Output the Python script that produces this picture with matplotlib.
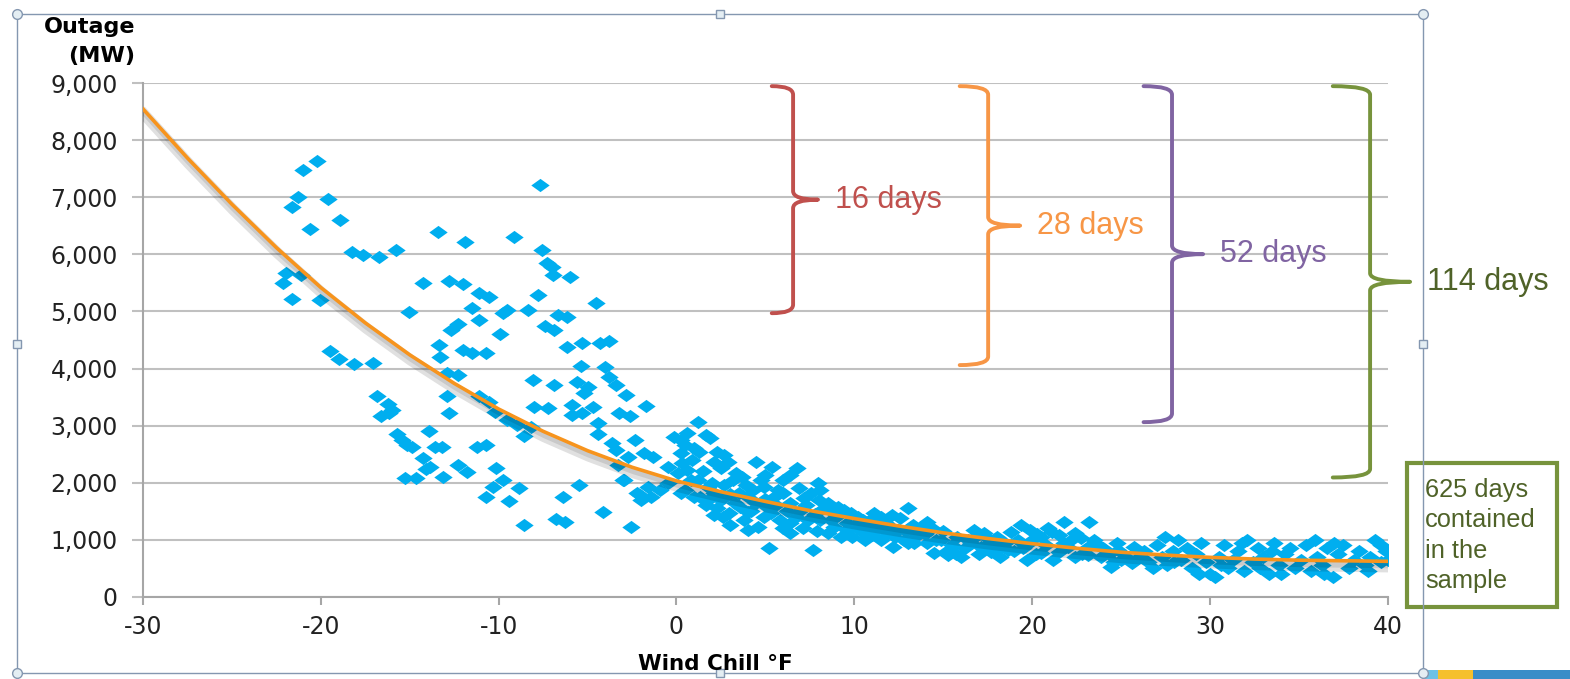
import matplotlib
matplotlib.use("Agg")
from matplotlib import pyplot as plt
from matplotlib.path import Path
from matplotlib.patches import PathPatch, Rectangle
from matplotlib.lines import Line2D
import matplotlib.patheffects as pe

plt.rcParams["axes.unicode_minus"] = False

# %% Data: (wind chill F, outage MW)
cold_points = [
    (-20.98, 7480), (-20.19, 7640), (-21.31, 7010), (-21.61, 6840), (-19.6, 6970),
    (-20.62, 6440), (-18.91, 6600), (-18.26, 6050), (-17.62, 5990), (-16.74, 5960),
    (-15.79, 6070), (-21.96, 5670), (-21.14, 5640), (-22.12, 5500), (-21.61, 5220),
    (-20.03, 5200), (-19.5, 4310), (-19.0, 4160), (-18.12, 4080), (-17.07, 4090),
    (-16.84, 3510), (-16.24, 3380), (-16.0, 3270), (-16.64, 3170), (-16.18, 3220),
    (-15.69, 2860), (-15.45, 2750), (-15.16, 2660), (-14.86, 2630), (-13.94, 2900),
    (-14.27, 2430), (-13.88, 2280), (-14.07, 2230), (-13.58, 2630), (-13.19, 2630),
    (-15.26, 2080), (-14.67, 2080), (-13.13, 2100), (-12.3, 2310), (-11.8, 2190),
    (-11.21, 2630), (-10.72, 2660), (-13.42, 6400), (-11.9, 6220), (-14.27, 5500),
    (-12.79, 5530), (-12.0, 5490), (-15.06, 4990), (-13.38, 4410), (-13.28, 4210),
    (-12.69, 4680), (-12.3, 4780), (-11.11, 5320), (-10.52, 5250), (-11.51, 5060),
    (-11.11, 4850), (-9.93, 4610), (-12.0, 4320), (-11.51, 4270), (-10.72, 4270),
    (-12.89, 3920), (-12.3, 3890), (-12.89, 3510), (-12.79, 3220), (-11.11, 3510),
    (-10.52, 3420), (-10.23, 3240), (-9.54, 5030), (-9.73, 4970), (-9.14, 6300),
    (-8.35, 5030), (-7.76, 5290), (-7.56, 6080), (-7.66, 7210), (-7.27, 5850),
    (-7.0, 5780), (-6.97, 5640), (-5.98, 5610), (-4.51, 5140), (-6.68, 4940),
    (-6.18, 4910), (-7.37, 4750), (-6.87, 4680), (-6.18, 4380), (-5.29, 4450),
    (-4.31, 4440), (-3.81, 4490), (-5.39, 4040), (-4.01, 4030), (-3.81, 3860),
    (-3.42, 3710), (-2.83, 3540), (-5.59, 3770), (-5.0, 3680), (-5.2, 3570),
    (-8.06, 3800), (-6.87, 3710), (-8.0, 3330), (-7.21, 3300), (-5.89, 3360),
    (-5.89, 3190), (-5.29, 3220), (-4.7, 3330), (-4.41, 3040), (-3.22, 3220),
    (-2.63, 3160), (-1.74, 3340), (-4.41, 2860), (-3.62, 2690), (-3.42, 2570),
    (-2.33, 2750), (-8.55, 2810), (-8.16, 2980), (-9.54, 3100), (-8.94, 3010),
    (-10.13, 2250), (-9.73, 2050), (-10.33, 1930), (-10.72, 1750), (-9.44, 1670),
    (-8.85, 1900), (-8.55, 1260), (-6.38, 1750), (-5.49, 1960), (-6.77, 1370),
    (-6.28, 1310), (-4.11, 1490), (-2.53, 1230), (-2.93, 2050), (-2.04, 1780),
    (-3.3, 2310), (-3.0, 2050), (-2.2, 1820), (-2.0, 1690), (-2.75, 2450),
]

mild_points = [
    (-1.85, 2520), (-1.6, 1920), (-1.45, 1750), (-1.3, 2450), (-0.9, 1870),
    (-0.5, 1990), (-0.5, 2270), (-0.15, 2800), (0.07, 2170), (0.25, 2520),
    (0.25, 1820), (0.6, 2870), (0.6, 2220), (1.0, 1750), (1.2, 3060),
    (1.2, 2050), (0.25, 2750), (1.65, 2840), (1.9, 2790), (0.5, 2660),
    (1.0, 2610), (1.25, 2540), (2.3, 2540), (2.65, 2490), (2.1, 2360),
    (2.9, 2360), (2.5, 2260), (4.45, 2360), (5.4, 2280), (5.0, 2140),
    (3.35, 2170), (3.7, 2100), (3.2, 2050), (6.8, 2260), (6.4, 2140),
    (6.0, 2050), (4.75, 2050), (4.9, 1920), (4.3, 1870), (4.0, 1750),
    (3.5, 1820), (5.7, 1870), (6.0, 1820), (5.5, 1750), (7.95, 1990),
    (8.1, 1870), (7.55, 1820), (7.15, 1730), (2.1, 1820), (1.75, 1920),
    (1.35, 1750), (0.8, 2040), (0.5, 1870), (1.65, 1610), (2.3, 1550),
    (2.1, 1430), (2.6, 1400), (2.95, 1470), (3.6, 1570), (4.0, 1480),
    (3.8, 1340), (5.1, 1570), (5.3, 1470), (4.9, 1400), (6.4, 1640),
    (7.0, 1520), (6.7, 1400), (7.4, 1340), (6.4, 1290), (8.5, 1640),
    (9.1, 1570), (9.4, 1520), (8.85, 1470), (9.8, 1470), (10.2, 1400),
    (10.5, 1340), (8.1, 1340), (8.85, 1220), (9.6, 1170), (8.5, 1110),
    (9.25, 1040), (11.1, 1470), (11.5, 1400), (12.1, 1430), (12.6, 1380),
    (13.0, 1550), (10.75, 1220), (11.3, 1170), (11.9, 1110), (12.45, 1170),
    (11.5, 990), (12.2, 870), (13.0, 940), (13.4, 1040), (4.0, 1170),
    (4.6, 1220), (5.2, 850), (6.4, 1110), (7.7, 810), (0.3, 2350),
    (0.9, 2400), (1.5, 2200), (2.0, 2000), (2.7, 1950), (3.0, 1800),
    (3.3, 1650), (3.9, 1950), (4.5, 1650), (5.0, 1720), (5.6, 1600),
    (6.2, 1500), (6.9, 1900), (7.3, 1600), (7.8, 1450), (8.3, 1550),
    (8.7, 1350), (9.6, 1300), (10.0, 1250), (10.4, 1150), (10.9, 1350),
    (11.4, 1250), (11.8, 1300), (12.3, 1050), (12.9, 1150), (13.3, 1250),
    (13.6, 1100), (9.9, 1050), (10.6, 1000), (11.0, 1080), (5.8, 1350),
    (6.0, 1200), (7.1, 1200), (7.9, 1150), (3.0, 1250), (2.5, 1700),
    (1.8, 1700), (4.2, 1500), (8.0, 1700), (9.0, 1400),
]

warm_points = [
    (14.1, 1310), (13.75, 1220), (13.2, 1220), (12.8, 990), (13.35, 940),
    (14.1, 940), (14.9, 990), (14.5, 760), (15.3, 730), (16.0, 690),
    (16.75, 1170), (17.3, 1110), (16.55, 940), (17.1, 870), (17.9, 990),
    (18.25, 870), (17.7, 780), (18.8, 1130), (19.4, 1250), (19.9, 1170),
    (19.2, 990), (19.8, 940), (20.5, 1040), (21.1, 1130), (21.8, 1310),
    (23.2, 1310), (21.5, 1080), (22.4, 1110), (22.75, 1030), (22.0, 870),
    (23.15, 870), (23.7, 900), (23.9, 690), (24.45, 520), (25.0, 640),
    (25.6, 590), (26.1, 690), (26.5, 600), (18.65, 810), (20.5, 760),
    (21.5, 780), (22.4, 690), (23.15, 730), (24.85, 810), (25.75, 870),
    (14.0, 1100), (14.6, 1000), (15.0, 1150), (15.5, 900), (15.8, 1050),
    (16.2, 850), (16.4, 1000), (17.0, 750), (17.6, 950), (18.0, 1050),
    (18.5, 950), (19.0, 800), (19.5, 850), (20.0, 1000), (20.2, 750),
    (20.8, 900), (21.2, 650), (21.8, 950), (22.2, 1000), (22.8, 750),
    (23.5, 1000), (24.0, 850), (24.3, 750), (24.8, 950), (25.3, 700),
    (25.8, 650), (26.3, 800), (15.2, 800), (16.8, 1050), (19.7, 650),
    (12.0, 1200), (14.4, 1200), (18.2, 700), (20.9, 1200), (24.6, 600),
    (20.3, 1100), (17.4, 1050), (15.7, 750),
]

hot_points = [
    (27.0, 900), (27.3, 700), (27.6, 550), (27.9, 800), (28.2, 1000),
    (28.4, 650), (28.7, 850), (29.0, 500), (29.2, 750), (29.5, 950),
    (29.8, 600), (30.0, 400), (30.3, 350), (30.5, 700), (30.8, 900),
    (31.0, 500), (31.3, 650), (31.6, 800), (31.9, 450), (32.1, 1000),
    (32.4, 600), (32.7, 850), (33.0, 700), (33.3, 400), (33.6, 950),
    (33.9, 550), (34.2, 750), (34.5, 850), (34.8, 500), (35.1, 650),
    (35.4, 900), (35.7, 450), (36.0, 700), (36.3, 550), (36.6, 850),
    (36.9, 350), (37.2, 750), (37.5, 900), (37.8, 500), (38.1, 650),
    (38.4, 800), (38.7, 550), (39.0, 700), (39.3, 1000), (39.6, 600),
    (39.9, 800), (40.0, 650), (37.0, 950), (34.0, 400), (31.8, 950),
    (29.4, 400), (28.0, 600), (26.8, 500), (35.9, 1000), (38.9, 450),
    (32.8, 500), (30.6, 550), (36.4, 400), (33.5, 800), (27.5, 1050),
    (39.6, 900),
]

trend_x = [-30, -27.5, -25, -22.5, -20, -17.5, -15, -12.5, -10, -7.5, -5, -2.5,
           0, 2.5, 5, 7.5, 10, 12.5, 15, 17.5, 20, 22.5, 25, 27.5, 30, 32.5,
           35, 37.5, 40]
trend_y = [8550, 7690, 6880, 6120, 5420, 4800, 4240, 3740, 3290, 2900, 2560, 2270,
           2030, 1840, 1670, 1510, 1370, 1240, 1120, 1020, 930, 850, 780, 730,
           690, 660, 640, 630, 620]

bracket_days = ["16 days", "28 days", "52 days", "114 days"]
bracket_floor = [4970, 4060, 3060, 2090]
bracket_top = 8950

yticks = list(range(0, 9001, 1000))
xticks = list(range(-30, 41, 10))

# %% Figure
W, H = 1570, 679
fig = plt.figure(figsize=(W / 100, H / 100), dpi=100)
ax = fig.add_axes([143 / W, 1 - 596.7 / H, (1387.7 - 143) / W, (596.7 - 83.3) / H])

pts = cold_points + mild_points + warm_points + hot_points
xs = [p[0] for p in pts]
ys = [p[1] for p in pts]
diamond = Path([(-1, 0), (0, 0.72), (1, 0), (0, -0.72), (-1, 0)],
               [Path.MOVETO, Path.LINETO, Path.LINETO, Path.LINETO, Path.CLOSEPOLY])
ax.scatter(xs, ys, marker=diamond, s=175, color="#00AEEF", linewidths=0, zorder=3)

ax.plot(trend_x, trend_y, color="#F7941D", lw=2.6, zorder=4,
        path_effects=[pe.SimpleLineShadow(offset=(1, -4), shadow_color="k", alpha=0.12, linewidth=8),
                      pe.SimpleLineShadow(offset=(1, -3), shadow_color="k", alpha=0.10, linewidth=4),
                      pe.Normal()])

ax.set_xlim(-30, 40)
ax.set_ylim(0, 9000)
ax.set_xticks(xticks)
ax.set_yticks(yticks)
ax.set_yticklabels([f"{v:,}" for v in yticks])
ax.grid(axis="y", color="#C0C0C0", lw=1.5)
ax.set_axisbelow(True)
for s in ["top", "right"]:
    ax.spines[s].set_visible(False)
for s in ["left", "bottom"]:
    ax.spines[s].set_color("#A6A6A6")
    ax.spines[s].set_linewidth(1.5)
ax.tick_params(axis="y", direction="out", length=8, width=1.5, color="#C0C0C0",
               pad=10, labelsize=17, labelcolor="#222222")
ax.tick_params(axis="x", direction="out", length=6, width=1.5, color="#A6A6A6",
               pad=7, labelsize=17, labelcolor="#222222")

fig.text(135 / W, 1 - 27 / H, "Outage", ha="right", va="center", fontsize=16, fontweight="bold")
fig.text(135 / W, 1 - 56 / H, "(MW)", ha="right", va="center", fontsize=16, fontweight="bold")
fig.text(715 / W, 1 - 664 / H, "Wind Chill °F", ha="center", va="center", fontsize=15.5, fontweight="bold")

# %% Braces
brace_x = [6.56, 17.53, 27.87, 39.01]
hook_w = [1.2, 1.6, 1.6, 2.1]
tip_w = [1.4, 1.8, 1.75, 2.25]
colors = ["#C0504D", "#F79646", "#8064A2", "#77933C"]
text_colors = ["#C0504D", "#F79646", "#8064A2", "#4F6228"]
ry = 150
for bx, bottom, hw, tw, c, tc, lab in zip(brace_x, bracket_floor, hook_w, tip_w,
                                          colors, text_colors, bracket_days):
    top = bracket_top
    mid = (top + bottom) / 2
    verts = [(bx - hw, top), (bx, top), (bx, top - ry),
             (bx, mid + ry), (bx, mid), (bx + tw, mid),
             (bx, mid), (bx, mid - ry),
             (bx, bottom + ry), (bx, bottom), (bx - hw, bottom)]
    codes = [Path.MOVETO, Path.CURVE3, Path.CURVE3,
             Path.LINETO, Path.CURVE3, Path.CURVE3,
             Path.CURVE3, Path.CURVE3,
             Path.LINETO, Path.CURVE3, Path.CURVE3]
    ax.add_patch(PathPatch(Path(verts, codes), fill=False, edgecolor=c, lw=2.8,
                           capstyle="round", joinstyle="round", clip_on=False, zorder=5))
    ax.annotate(lab, (bx + tw, mid), xytext=(12, 0), textcoords="offset points",
                ha="left", va="center", color=tc, fontsize=22, family="Liberation Sans",
                annotation_clip=False)

# %% Sample note box
fig.add_artist(Rectangle((1407 / W, 1 - 607 / H), 150 / W, 144 / H, transform=fig.transFigure,
                         fill=False, edgecolor="#77933C", lw=3))
for i, line in enumerate(["625 days", "contained", "in the", "sample"]):
    fig.text(1425 / W, 1 - (490 + 30.3 * i) / H, line, ha="left", va="center",
             fontsize=18.3, color="#4F6228", family="Liberation Sans")

# %% Selection frame
fx0, fy0, fx1, fy1 = 17 / W, 1 - 673 / H, 1422.7 / W, 1 - 14 / H
fig.add_artist(Rectangle((fx0, fy0), fx1 - fx0, fy1 - fy0, transform=fig.transFigure,
                         fill=False, edgecolor="#8497B0", lw=1))
for hx, hy in [(fx0, fy0), (fx0, fy1), (fx1, fy0), (fx1, fy1)]:
    fig.add_artist(Line2D([hx], [hy], marker="o", markersize=7, mfc="#E4EEF3", mec="#8497B0",
                          mew=1, transform=fig.transFigure))
for hx, hy in [((fx0 + fx1) / 2, fy0), ((fx0 + fx1) / 2, fy1), (fx0, (fy0 + fy1) / 2), (fx1, (fy0 + fy1) / 2)]:
    fig.add_artist(Line2D([hx], [hy], marker="s", markersize=5.5, mfc="#E4EEF3", mec="#8497B0",
                          mew=1, transform=fig.transFigure))

# bottom-right colour strip
for x0, x1, c in [(1425, 1438, "#6EC1E4"), (1438, 1473, "#F5C02C"), (1473, 1570, "#3A8DC8")]:
    fig.add_artist(Rectangle((x0 / W, 0), (x1 - x0) / W, 9 / H, transform=fig.transFigure,
                             color=c, lw=0))

fig.savefig("out.png", dpi=100)
plt.close(fig)
